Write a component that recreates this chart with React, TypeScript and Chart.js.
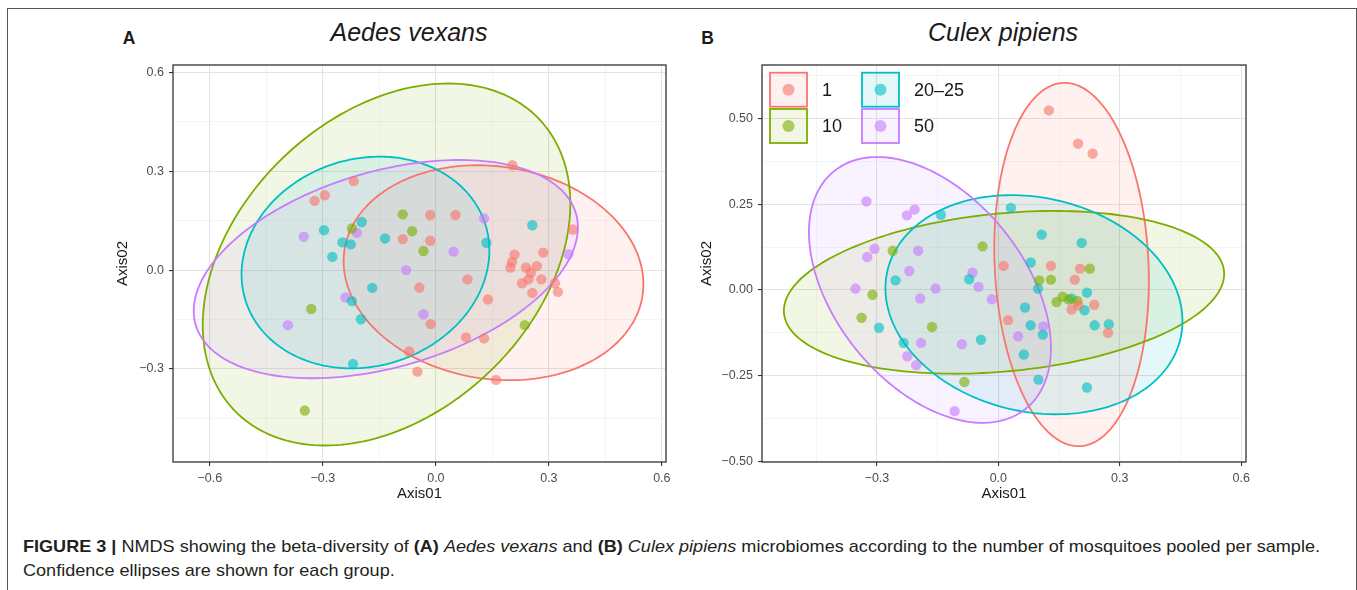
import React, { useEffect, useLayoutEffect, useRef } from 'react';
import { Chart, registerables } from 'chart.js';

Chart.register(...registerables);

const FONT = "'Liberation Sans', Arial, Helvetica, sans-serif";

// Groups (number of mosquitoes pooled per sample)
const GROUPS = ['1', '10', '20–25', '50'];
const COLORS = ['#F8766D', '#7CAE00', '#00BFC4', '#C77CFF'];

// ---------- Panel A: Aedes vexans ----------
const A_G1: number[][] = [
  [0.203, 0.318], [-0.218, 0.27], [-0.322, 0.21], [-0.295, 0.227], [-0.015, 0.167], [0.052, 0.167],
  [-0.088, 0.094], [-0.015, 0.089], [0.364, 0.123], [0.285, 0.053], [0.209, 0.047], [0.202, 0.025],
  [0.198, 0.008], [0.239, 0.008], [0.268, 0.012], [0.252, -0.008], [0.246, -0.028], [0.229, -0.04],
  [0.28, -0.028], [0.316, -0.04], [0.324, -0.066], [0.256, -0.069], [0.084, -0.028], [-0.044, -0.053],
  [0.138, -0.089], [-0.014, -0.164], [0.08, -0.204], [0.128, -0.207], [-0.071, -0.247], [-0.049, -0.308],
  [0.16, -0.333],
];
const A_G10: number[][] = [
  [-0.088, 0.169], [-0.063, 0.118], [-0.033, 0.058], [-0.223, 0.126], [-0.331, -0.118], [0.236, -0.167],
  [-0.348, -0.426],
];
const A_G20: number[][] = [
  [0.256, 0.136], [0.134, 0.083], [-0.197, 0.146], [-0.297, 0.121], [-0.248, 0.084], [-0.226, 0.078],
  [-0.275, 0.04], [-0.135, 0.096], [-0.169, -0.054], [-0.223, -0.094], [-0.199, -0.149], [-0.22, -0.285],
];
const A_G50: number[][] = [
  [0.128, 0.157], [-0.351, 0.101], [-0.21, 0.113], [0.047, 0.056], [-0.079, 0.0], [-0.24, -0.083],
  [-0.033, -0.134], [-0.393, -0.167], [0.352, 0.048],
];
// confidence ellipses: [centre x, centre y, half-width, half-height, correlation]
const A_ELLIPSES: number[][] = [
  [0.153, -0.008, 0.398, 0.326, -0.106],
  [-0.131, 0.017, 0.488, 0.549, 0.335],
  [-0.187, 0.023, 0.329, 0.321, 0.113],
  [-0.133, 0.003, 0.51, 0.331, 0.383],
];
const A_X_RANGE = [-0.698, 0.611];
const A_Y_RANGE = [-0.582, 0.622];
const A_X_MAJOR = [-0.6, -0.3, 0, 0.3, 0.6];
const A_X_LABELS = ['−0.6', '−0.3', '0.0', '0.3', '0.6'];
const A_X_MINOR = [-0.45, -0.15, 0.15, 0.45];
const A_Y_MAJOR = [-0.3, 0, 0.3, 0.6];
const A_Y_LABELS = ['−0.3', '0.0', '0.3', '0.6'];
const A_Y_MINOR = [-0.45, -0.15, 0.15, 0.45];

// ---------- Panel B: Culex pipiens ----------
const B_G1: number[][] = [
  [0.125, 0.523], [0.197, 0.426], [0.233, 0.397], [0.013, 0.07], [0.13, 0.07], [0.202, 0.062],
  [0.189, 0.03], [0.181, -0.057], [0.198, -0.045], [0.237, -0.043], [0.024, -0.088], [0.271, -0.125],
];
const B_G10: number[][] = [
  [-0.039, 0.127], [-0.261, 0.114], [0.101, 0.028], [0.13, 0.03], [0.159, -0.02], [0.144, -0.035],
  [0.174, -0.028], [0.226, 0.062], [0.195, -0.032], [-0.311, -0.014], [-0.338, -0.081], [-0.164, -0.108],
  [-0.084, -0.268],
];
const B_G20: number[][] = [
  [0.031, 0.239], [-0.142, 0.219], [0.107, 0.161], [0.206, 0.137], [0.08, 0.08], [-0.254, 0.028],
  [-0.072, 0.031], [0.098, 0.004], [0.219, -0.008], [0.181, -0.025], [0.213, -0.059], [0.066, -0.051],
  [0.238, -0.103], [0.273, -0.1], [0.08, -0.103], [0.11, -0.13], [-0.295, -0.11], [-0.234, -0.154],
  [-0.043, -0.145], [0.063, -0.188], [0.099, -0.261], [0.219, -0.284],
];
const B_G50: number[][] = [
  [-0.326, 0.258], [-0.226, 0.217], [-0.207, 0.234], [-0.306, 0.12], [-0.324, 0.096], [-0.198, 0.114],
  [-0.22, 0.055], [-0.064, 0.05], [-0.353, 0.004], [-0.155, 0.004], [-0.049, 0.009], [-0.193, -0.025],
  [-0.016, -0.027], [0.111, -0.106], [0.049, -0.135], [-0.191, -0.154], [-0.09, -0.158], [-0.225, -0.193],
  [-0.203, -0.219], [-0.108, -0.353],
];
const B_ELLIPSES: number[][] = [
  [0.181, 0.074, 0.191, 0.529, -0.09],
  [0.014, -0.007, 0.544, 0.237, 0.226],
  [0.088, -0.043, 0.367, 0.319, -0.15],
  [-0.169, 0.0, 0.299, 0.387, -0.435],
];
const B_X_RANGE = [-0.584, 0.612];
const B_Y_RANGE = [-0.501, 0.655];
const B_X_MAJOR = [-0.3, 0, 0.3, 0.6];
const B_X_LABELS = ['−0.3', '0.0', '0.3', '0.6'];
const B_X_MINOR = [-0.45, -0.15, 0.15, 0.45];
const B_Y_MAJOR = [-0.5, -0.25, 0, 0.25, 0.5];
const B_Y_LABELS = ['−0.50', '−0.25', '0.00', '0.25', '0.50'];
const B_Y_MINOR = [-0.375, -0.125, 0.125, 0.375, 0.625];

// ---------- helpers ----------
function rgba(hex: string, a: number) {
  const n = parseInt(hex.slice(1), 16);
  return `rgba(${(n >> 16) & 255},${(n >> 8) & 255},${n & 255},${a})`;
}

function ellipsePath(ctx: CanvasRenderingContext2D, xs: any, ys: any, e: number[]) {
  const [cx, cy, sx, sy, r] = e;
  const k = Math.sqrt(1 - r * r);
  const N = 200;
  ctx.beginPath();
  for (let i = 0; i <= N; i++) {
    const t = (i / N) * Math.PI * 2;
    const vx = cx + sx * Math.cos(t);
    const vy = cy + sy * (r * Math.cos(t) + k * Math.sin(t));
    const px = xs.getPixelForValue(vx);
    const py = ys.getPixelForValue(vy);
    if (i === 0) ctx.moveTo(px, py);
    else ctx.lineTo(px, py);
  }
  ctx.closePath();
}

const near = (list: number[], v: number) => list.findIndex((m) => Math.abs(m - v) < 1e-9);

function makeAxis(
  kind: 'x' | 'y',
  range: number[],
  major: number[],
  labels: string[],
  minor: number[],
  title: string,
  titlePad: number,
  size: number
) {
  const isMajor = (c: any) => c && c.tick && near(major, c.tick.value) >= 0;
  return {
    type: 'linear',
    position: kind === 'x' ? 'bottom' : 'left',
    min: range[0],
    max: range[1],
    afterBuildTicks: (s: any) => {
      s.ticks = [...major, ...minor].sort((a, b) => a - b).map((v) => ({ value: v }));
    },
    afterFit: (s: any) => {
      if (kind === 'x') s.height = size;
      else s.width = size;
    },
    ticks: {
      autoSkip: false,
      maxRotation: 0,
      minRotation: 0,
      padding: 5,
      color: '#4D4D4D',
      font: { family: FONT, size: 12.5 },
      callback: (v: number) => {
        const i = near(major, v);
        return i >= 0 ? labels[i] : '';
      },
    },
    grid: {
      drawTicks: true,
      tickLength: 4,
      tickWidth: 1.1,
      color: (c: any) => (isMajor(c) ? '#E3E3E3' : '#EFEFEF'),
      lineWidth: (c: any) => (isMajor(c) ? 1.1 : 0.7),
      tickColor: (c: any) => (isMajor(c) ? '#333333' : 'rgba(0,0,0,0)'),
    },
    border: { display: false },
    title: {
      display: true,
      text: title,
      color: '#1A1A1A',
      font: { family: FONT, size: 15 },
      padding: kind === 'x' ? { top: 0, bottom: titlePad } : { top: titlePad, bottom: 0 },
    },
  };
}

// legend geometry (relative to chart area of panel B)
const LEG_COLS = [8, 100];
const LEG_ROWS = [7.7, 44];
const LEG_KEY = [37, 34];
const LEG_TEXT_DX = 52;

interface PanelProps {
  left: number;
  top: number;
  yWidth: number;
  padRight: number;
  yTitlePad: number;
  groups: number[][][];
  ellipses: number[][];
  xr: number[];
  yr: number[];
  xMajor: number[];
  xLabels: string[];
  xMinor: number[];
  yMajor: number[];
  yLabels: string[];
  yMinor: number[];
  legend?: boolean;
}

const CW = 580;
const CH = 465;

function Panel(p: PanelProps) {
  const ref = useRef<HTMLCanvasElement | null>(null);
  useEffect(() => {
    if (!ref.current) return;
    const deco = {
      id: 'deco',
      beforeDatasetsDraw(chart: any) {
        const { ctx, chartArea: a, scales } = chart;
        ctx.save();
        ctx.beginPath();
        ctx.rect(a.left, a.top, a.right - a.left, a.bottom - a.top);
        ctx.clip();
        p.ellipses.forEach((e, i) => {
          ellipsePath(ctx, scales.x, scales.y, e);
          ctx.fillStyle = rgba(COLORS[i], 0.1);
          ctx.fill();
        });
        p.ellipses.forEach((e, i) => {
          ellipsePath(ctx, scales.x, scales.y, e);
          ctx.strokeStyle = COLORS[i];
          ctx.lineWidth = 1.8;
          ctx.stroke();
        });
        ctx.restore();
      },
      afterDraw(chart: any) {
        const { ctx, chartArea: a } = chart;
        ctx.save();
        ctx.strokeStyle = '#333333';
        ctx.lineWidth = 1.3;
        ctx.strokeRect(a.left, a.top, a.right - a.left, a.bottom - a.top);
        if (p.legend) {
          GROUPS.forEach((g, i) => {
            const col = Math.floor(i / 2);
            const row = i % 2;
            const kx = a.left + LEG_COLS[col];
            const ky = a.top + LEG_ROWS[row];
            ctx.fillStyle = rgba(COLORS[i], 0.1);
            ctx.fillRect(kx, ky, LEG_KEY[0], LEG_KEY[1]);
            ctx.strokeStyle = COLORS[i];
            ctx.lineWidth = 1.8;
            ctx.strokeRect(kx, ky, LEG_KEY[0], LEG_KEY[1]);
            ctx.beginPath();
            ctx.arc(kx + LEG_KEY[0] / 2, ky + LEG_KEY[1] / 2, 6, 0, Math.PI * 2);
            ctx.fillStyle = rgba(COLORS[i], 0.6);
            ctx.fill();
            ctx.fillStyle = '#1A1A1A';
            ctx.font = `18px ${FONT}`;
            ctx.textAlign = 'left';
            ctx.textBaseline = 'middle';
            ctx.fillText(g, kx + LEG_TEXT_DX, ky + LEG_KEY[1] / 2 + 1);
          });
        }
        ctx.restore();
      },
    };
    const chart = new Chart(ref.current, {
      type: 'scatter',
      data: {
        datasets: p.groups.map((pts, i) => ({
          label: GROUPS[i],
          data: pts.map(([x, y]) => ({ x, y })),
          backgroundColor: rgba(COLORS[i], 0.62),
          borderWidth: 0,
          pointRadius: 5.2,
          pointHoverRadius: 5.2,
        })),
      },
      options: {
        responsive: false,
        animation: false,
        devicePixelRatio: 1,
        layout: { padding: { top: 20, right: p.padRight, bottom: 0, left: 0 } },
        plugins: { legend: { display: false }, tooltip: { enabled: false } },
        scales: {
          x: makeAxis('x', p.xr, p.xMajor, p.xLabels, p.xMinor, 'Axis01', 7, 48),
          y: makeAxis('y', p.yr, p.yMajor, p.yLabels, p.yMinor, 'Axis02', p.yTitlePad, p.yWidth),
        },
      } as any,
      plugins: [deco],
    } as any);
    return () => chart.destroy();
  }, []);
  return (
    <canvas
      ref={ref}
      width={CW}
      height={CH}
      style={{ position: 'absolute', left: p.left, top: p.top, width: CW, height: CH }}
    />
  );
}

const CAPTION_WIDTH = 1297;

function Caption() {
  const l1 = useRef<HTMLSpanElement | null>(null);
  const l2 = useRef<HTMLSpanElement | null>(null);
  useLayoutEffect(() => {
    if (!l1.current || !l2.current) return;
    const w = l1.current.getBoundingClientRect().width;
    const s = CAPTION_WIDTH / w;
    l1.current.style.transform = `scaleX(${s})`;
    l2.current.style.transform = `scaleX(${s})`;
  }, []);
  const line: React.CSSProperties = {
    position: 'absolute',
    left: 22.7,
    fontFamily: FONT,
    fontSize: 17,
    lineHeight: '24px',
    color: '#231F20',
    whiteSpace: 'nowrap',
  };
  const span: React.CSSProperties = { display: 'inline-block', transformOrigin: '0 0' };
  return (
    <>
      <div style={{ ...line, top: 534.8 }}>
        <span ref={l1} style={span}>
          <b>FIGURE 3 |</b> NMDS showing the beta-diversity of <b>(A)</b> <i>Aedes vexans</i> and <b>(B)</b>{' '}
          <i>Culex pipiens</i> microbiomes according to the number of mosquitoes pooled per sample.
        </span>
      </div>
      <div style={{ ...line, top: 558.8 }}>
        <span ref={l2} style={span}>
          Confidence ellipses are shown for each group.
        </span>
      </div>
    </>
  );
}

function Label(props: { x: number; top: number; size: number; bold?: boolean; italic?: boolean; text: string }) {
  return (
    <div
      style={{
        position: 'absolute',
        left: props.x,
        top: props.top,
        transform: 'translateX(-50%)',
        fontFamily: FONT,
        fontSize: props.size,
        lineHeight: `${props.size}px`,
        fontWeight: props.bold ? 700 : 400,
        fontStyle: props.italic ? 'italic' : 'normal',
        color: '#1A1A1A',
        whiteSpace: 'nowrap',
      }}
    >
      {props.text}
    </div>
  );
}

export default function App() {
  return (
    <div
      style={{
        position: 'absolute',
        left: 0,
        top: 0,
        width: 1357,
        height: 590,
        background: '#ffffff',
        overflow: 'hidden',
      }}
    >
      <div
        style={{
          position: 'absolute',
          left: 6.5,
          top: 7.5,
          width: 1348,
          height: 620,
          borderTop: '1.5px solid #555',
          borderLeft: '1.5px solid #555',
          borderRight: '1.5px solid #555',
        }}
      />
      <Label x={129} top={29.5} size={17.5} bold text="A" />
      <Label x={707.5} top={29.5} size={17.5} bold text="B" />
      <Label x={409} top={20.3} size={25} italic text="Aedes vexans" />
      <Label x={1003} top={20.3} size={25} italic text="Culex pipiens" />
      <Panel
        left={100}
        top={45}
        yWidth={73}
        padRight={14}
        yTitlePad={14}
        groups={[A_G1, A_G10, A_G20, A_G50]}
        ellipses={A_ELLIPSES}
        xr={A_X_RANGE}
        yr={A_Y_RANGE}
        xMajor={A_X_MAJOR}
        xLabels={A_X_LABELS}
        xMinor={A_X_MINOR}
        yMajor={A_Y_MAJOR}
        yLabels={A_Y_LABELS}
        yMinor={A_Y_MINOR}
      />
      <Panel
        left={690}
        top={45}
        yWidth={72}
        padRight={24}
        yTitlePad={8}
        groups={[B_G1, B_G10, B_G20, B_G50]}
        ellipses={B_ELLIPSES}
        xr={B_X_RANGE}
        yr={B_Y_RANGE}
        xMajor={B_X_MAJOR}
        xLabels={B_X_LABELS}
        xMinor={B_X_MINOR}
        yMajor={B_Y_MAJOR}
        yLabels={B_Y_LABELS}
        yMinor={B_Y_MINOR}
        legend
      />
      <Caption />
    </div>
  );
}
